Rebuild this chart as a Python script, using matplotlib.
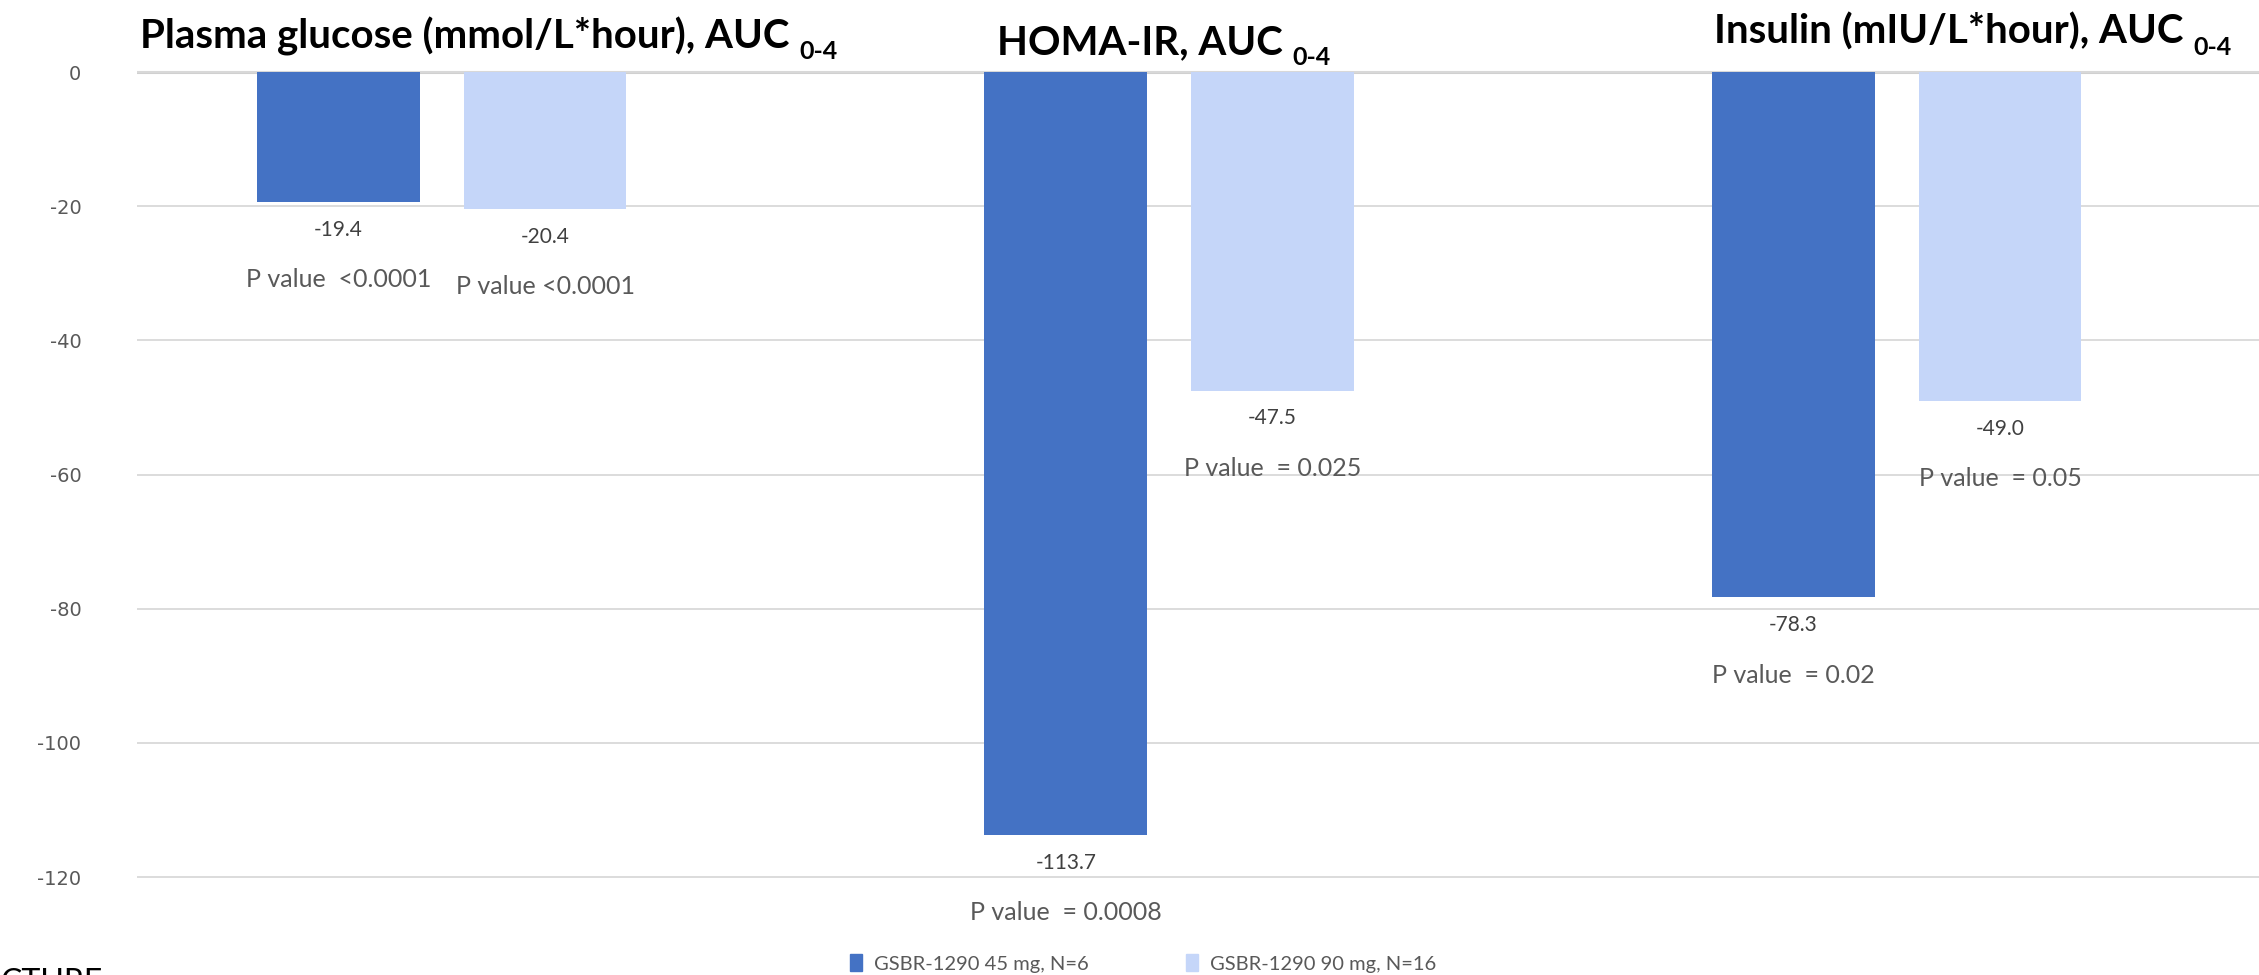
import numpy as np
import matplotlib
matplotlib.use('Agg')
import matplotlib.pyplot as plt
from matplotlib.patches import Patch

# data
titles = ['Plasma glucose (mmol/L*hour), AUC', 'HOMA-IR, AUC', 'Insulin (mIU/L*hour), AUC']
series_names = ['GSBR-1290 45 mg, N=6', 'GSBR-1290 90 mg, N=16']
dose45 = [-19.4, -113.7, -78.3]
dose90 = [-20.4, -47.5, -49.0]
p45 = ['P value  <0.0001', 'P value  = 0.0008', 'P value  = 0.02']
p90 = ['P value <0.0001', 'P value  = 0.025', 'P value  = 0.05']
yticks = [0, -20, -40, -60, -80, -100, -120]

dark = '#4472C4'
light = '#C5D6F9'
body = ['Lato', 'DejaVu Sans']

fig = plt.figure(figsize=(22.59, 9.75), dpi=100)
ax = fig.add_axes([0.0606, 0.0936, 0.9394, 0.8394])

x = np.arange(len(dose45))
w = 0.224
off = 0.142
b1 = ax.bar(x - off, dose45, width=w, color=dark, zorder=3)
b2 = ax.bar(x + off, dose90, width=w, color=light, zorder=3)

ax.set_xlim(-0.419, 2.498)
ax.set_ylim(-121, 1)
ax.set_yticks(yticks)
ax.set_yticklabels([str(t) for t in yticks], fontsize=14, color='#595959')
ax.tick_params(axis='y', length=0, pad=40)
ax.set_xticks([])
for s in ax.spines.values():
    s.set_visible(False)
ax.yaxis.grid(True, color='#D9D9D9', linewidth=1.3, zorder=0)
ax.axhline(0, color='#D0D0D0', linewidth=2.2, zorder=1)

# value labels and p values under each bar
for bars, vals, pv in [(b1, dose45, p45), (b2, dose90, p90)]:
    for rect, v, p in zip(bars, vals, pv):
        cx = rect.get_x() + rect.get_width() / 2
        ax.annotate(f'{v:.1f}', (cx, v), xytext=(0, -20), textcoords='offset points',
                    ha='center', va='center', fontsize=15, color='#404040',
                    family=body, annotation_clip=False)
        ax.annotate(p, (cx, v), xytext=(0, -56), textcoords='offset points',
                    ha='center', va='center', fontsize=18, color='#595959',
                    family=body, annotation_clip=False)

# panel titles with subscript
title_pos = [(140, 36), (997, 43), (1714, 32)]
for t, (px, py) in zip(titles, title_pos):
    tx = fig.text(px / 2259, 1 - py / 975, t + ' ', fontsize=29, fontweight='bold',
                  family=body, ha='left', va='center', color='black')
    ax.annotate('0-4', xy=(1, 0.1), xycoords=tx, xytext=(0, 0), textcoords='offset points',
                ha='left', va='center', fontsize=18, fontweight='bold', family=body,
                color='black', annotation_clip=False)

handles = [Patch(color=dark), Patch(color=light)]
fig.legend(handles, series_names, loc='center', bbox_to_anchor=(0.506, 0.012), ncol=2,
           frameon=False, handlelength=0.6, handleheight=0.95, handletextpad=0.6,
           columnspacing=4.8, prop={'family': body, 'size': 14.5}, labelcolor='#595959')

fig.text(0.0, 1 - 968 / 975, 'CTURE', fontsize=23, family=body, ha='left', va='top',
         color='black')

fig.savefig('out.png', dpi=100)
